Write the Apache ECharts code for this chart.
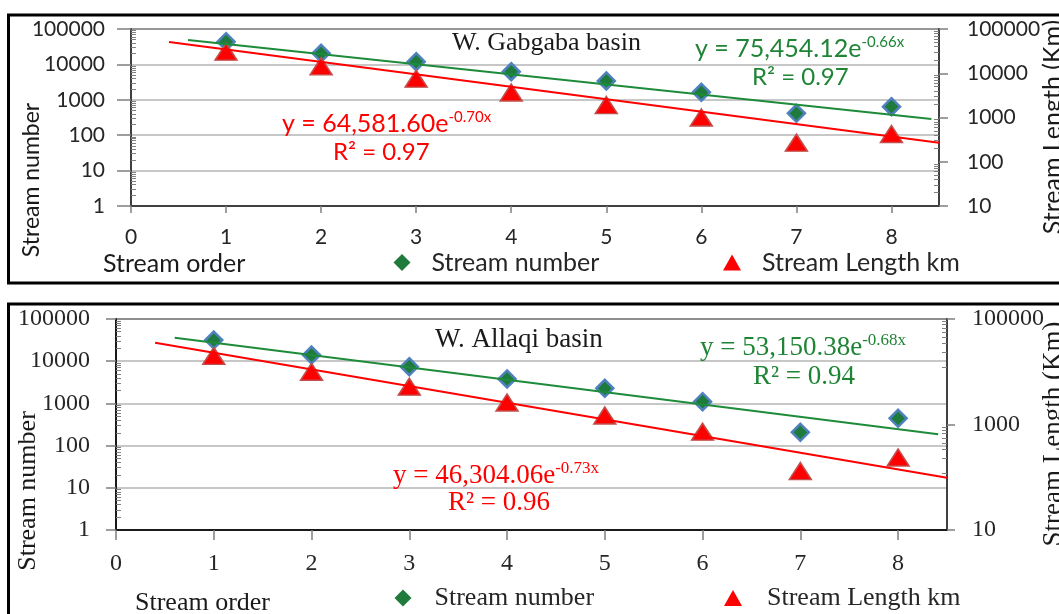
<!DOCTYPE html>
<html><head><meta charset="utf-8">
<script src="https://cdn.jsdelivr.net/npm/echarts@6/dist/echarts.min.js"></script>
<style>html,body{margin:0;padding:0;background:#fff}#c{width:1059px;height:614px}</style>
</head><body><div id="c"></div>
<script>
// ---- data ----
const streamOrder = [1, 2, 3, 4, 5, 6, 7, 8];
const xTickValues = [0, 1, 2, 3, 4, 5, 6, 7, 8];
const gabgabaNumber = [43800, 20600, 11900, 6200, 3400, 1630, 415, 640];
const gabgabaLength = [30700, 14350, 7530, 3670, 1910, 1000, 270, 424];
const allaqiNumber = [31700, 14000, 7400, 3790, 2280, 1100, 207, 444];
const allaqiLength = [20000, 10000, 5210, 2610, 1480, 730, 131, 237];
// trendline end points (x, y)
const gabgabaNumberTrendX = [0.6, 8.42];
const gabgabaNumberTrendY = [48900, 287];
const gabgabaLengthTrendX = [0.4, 8.5];
const gabgabaLengthTrendY = [50800, 269];
const allaqiNumberTrendX = [0.6, 8.41];
const allaqiNumberTrendY = [36060, 185];
const allaqiLengthTrendX = [0.4, 8.5];
const allaqiLengthTrendY = [35500, 98];
// axis tick values
const leftMajorTicks = [1, 10, 100, 1000, 10000, 100000];
const topRightMajorTicks = [10, 100, 1000, 10000, 100000];
const bottomRightMajorTicks = [10, 1000, 100000];
// texts
const panelTitles = ['W. Gabgaba basin', 'W. Allaqi basin'];
const eqGabNumber = ['y = 75,454.12e', '-0.66x', 'R² = 0.97'];
const eqGabLength = ['y = 64,581.60e', '-0.70x', 'R² = 0.97'];
const eqAllNumber = ['y = 53,150.38e', '-0.68x', 'R² = 0.94'];
const eqAllLength = ['y = 46,304.06e', '-0.73x', 'R² = 0.96'];
const seriesNames = ['Stream number', 'Stream Length km'];
const axisNames = ['Stream number', 'Stream Length (Km)', 'Stream order'];

const zip = (xs, ys) => xs.map((x, i) => [x, ys[i]]);
// minor ticks: each major interval divided in 9 equal (linear) steps, like the source chart
const minorBetween = majors => {
  const out = [];
  for (let i = 0; i < majors.length - 1; i++) {
    const a = majors[i], b = majors[i + 1], st = (b - a) / 9;
    for (let k = 1; k < 9; k++) out.push(a + st * k);
  }
  return out;
};
const GREEN_LINE = '#1E8B3A', GREEN_TXT = '#1F8436', RED = '#FF0000';
const SANS = 'Lato', SERIF = 'Liberation Serif';
const logFmt = v => String(Math.round(v));

function xAxisCfg(grid, font, size, margin, tickLen, lineColor) {
  return {
    gridIndex: grid, type: 'value', min: 0, max: 8.5, interval: 1,
    axisLine: { lineStyle: { color: lineColor, width: 2 } },
    axisTick: { length: tickLen, customValues: xTickValues, lineStyle: { color: '#7f7f7f', width: 1.5 } },
    axisLabel: { margin: margin, fontFamily: font, fontSize: size, color: '#262626',
      customValues: xTickValues, formatter: v => String(v) },
    splitLine: { show: false }
  };
}
function yAxisCfg(grid, pos, min, majors, font, size, margin, tickLen, grid_line, lineColor) {
  return {
    gridIndex: grid, type: 'log', logBase: 10, min: min, max: 100000, position: pos,
    axisLine: { show: true, lineStyle: { color: lineColor, width: 2 } },
    axisTick: { show: true, length: tickLen, customValues: majors, lineStyle: { color: '#7f7f7f', width: 1.5 } },
    axisLabel: { margin: margin, fontFamily: font, fontSize: size, color: '#262626', customValues: majors, formatter: logFmt },
    splitLine: { show: grid_line, lineStyle: { color: '#b4b4b4', width: 1.5 } }
  };
}
function minorAxisCfg(grid, pos, min, majors) {
  return {
    gridIndex: grid, type: 'log', logBase: 10, min: min, max: 100000, position: pos,
    axisLine: { show: false }, axisLabel: { show: false },
    axisTick: { show: true, inside: true, length: 5, customValues: minorBetween(majors),
      lineStyle: { color: '#808080', width: 1 } },
    splitLine: { show: false }
  };
}

function scatterNum(name, xi, yi, data) {
  return { name: name, type: 'scatter', xAxisIndex: xi, yAxisIndex: yi, data: data, z: 2,
    symbol: 'diamond', symbolSize: 17,
    itemStyle: { color: '#1E7B3C', borderColor: '#4F81BD', borderWidth: 2.5, opacity: 1 } };
}
function scatterLen(name, xi, yi, data) {
  return { name: name, type: 'scatter', xAxisIndex: xi, yAxisIndex: yi, data: data, z: 2,
    symbol: 'triangle', symbolSize: [22, 17],
    itemStyle: { color: RED, borderColor: '#C0504D', borderWidth: 1.5, opacity: 1 } };
}
function trend(name, xi, yi, data, color) {
  return { name: name, type: 'line', xAxisIndex: xi, yAxisIndex: yi, data: data, z: 4,
    showSymbol: false, symbol: 'none', silent: true, animation: false,
    lineStyle: { color: color, width: 2 } };
}
function legendCfg(name, icon, left, top, w, h, pad, font, size) {
  return { data: [{ name: name, icon: icon }], left: left, top: top, padding: 0,
    itemWidth: w, itemHeight: h, selectedMode: false,
    itemStyle: { borderWidth: 0 },
    textStyle: { fontFamily: font, fontSize: size, color: '#262626', padding: [0, 0, 0, pad] } };
}
function eqText(x, y, parts, color, font, size, supSize, rx, ry, rSize) {
  return [
    { type: 'text', x: x, y: y, z: 10, style: {
      text: '{m|' + parts[0] + '}{s|' + parts[1] + '}',
      verticalAlign: 'middle', textVerticalAlign: 'middle', align: 'left', textAlign: 'left',
      rich: {
        m: { fontFamily: font, fontSize: size, fill: color, color: color, lineHeight: size + 2, verticalAlign: 'bottom' },
        s: { fontFamily: font, fontSize: supSize, fill: color, color: color, lineHeight: size + 2, verticalAlign: 'top' }
      } } },
    { type: 'text', x: rx, y: ry, z: 10, style: {
      text: parts[2], fontFamily: font, fontSize: rSize, font: rSize + 'px "' + font + '"',
      fill: color, verticalAlign: 'middle', textVerticalAlign: 'middle', align: 'left', textAlign: 'left' } }
  ];
}
function plainText(x, y, text, font, size, rot, align) {
  return { type: 'text', x: x, y: y, rotation: rot || 0, z: 10, style: {
    text: text, fontFamily: font, fontSize: size, font: size + 'px "' + font + '"', fill: '#1a1a1a',
    align: align || 'left', textAlign: align || 'left', verticalAlign: 'middle', textVerticalAlign: 'middle' } };
}

const chart = echarts.init(document.getElementById('c'), null, { renderer: 'canvas' });
const option = {
  animation: false,
  backgroundColor: '#fff',
  grid: [
    { left: 131, top: 29, width: 808, height: 177, show: true, borderColor: '#404040', borderWidth: 2, backgroundColor: 'transparent' },
    { left: 116, top: 319, width: 831, height: 211, show: true, borderColor: '#1a1a1a', borderWidth: 2, backgroundColor: 'transparent' }
  ],
  xAxis: [
    xAxisCfg(0, SANS, 21, 21, 7, '#404040'),
    xAxisCfg(1, SERIF, 24, 22, 10, '#1a1a1a')
  ],
  yAxis: [
    yAxisCfg(0, 'left', 1, leftMajorTicks, SANS, 21, 26, 14, true, '#404040'),
    yAxisCfg(0, 'right', 10, topRightMajorTicks, SANS, 21, 28, 9, false, '#404040'),
    yAxisCfg(1, 'left', 1, leftMajorTicks, SERIF, 24, 26, 10, true, '#1a1a1a'),
    yAxisCfg(1, 'right', 10, bottomRightMajorTicks, SERIF, 24, 25, 8, false, '#404040'),
    minorAxisCfg(0, 'left', 1, leftMajorTicks),
    minorAxisCfg(0, 'right', 10, topRightMajorTicks),
    minorAxisCfg(1, 'left', 1, leftMajorTicks),
    minorAxisCfg(1, 'right', 10, bottomRightMajorTicks)
  ],
  legend: [
    legendCfg(seriesNames[0], 'diamond', 393.5, 250, 17, 17, 16, SANS, 25),
    legendCfg(seriesNames[1], 'triangle', 723, 250, 18, 16, 16, SANS, 25),
    legendCfg(seriesNames[0], 'diamond', 394.5, 585, 17, 17, 18, SERIF, 26),
    legendCfg(seriesNames[1], 'triangle', 724, 585, 18, 16, 20, SERIF, 26)
  ],
  series: [
    scatterNum(seriesNames[0], 0, 0, zip(streamOrder, gabgabaNumber)),
    scatterLen(seriesNames[1], 0, 1, zip(streamOrder, gabgabaLength)),
    trend('trendGabNum', 0, 0, zip(gabgabaNumberTrendX, gabgabaNumberTrendY), GREEN_LINE),
    trend('trendGabLen', 0, 1, zip(gabgabaLengthTrendX, gabgabaLengthTrendY), RED),
    scatterNum(seriesNames[0], 1, 2, zip(streamOrder, allaqiNumber)),
    scatterLen(seriesNames[1], 1, 3, zip(streamOrder, allaqiLength)),
    trend('trendAllNum', 1, 2, zip(allaqiNumberTrendX, allaqiNumberTrendY), GREEN_LINE),
    trend('trendAllLen', 1, 3, zip(allaqiLengthTrendX, allaqiLengthTrendY), RED)
  ],
  graphic: [].concat(
    [
      { type: 'rect', shape: { x: 8.5, y: 15, width: 1080, height: 268 }, z: 0,
        style: { fill: 'none', stroke: '#000', lineWidth: 3 } },
      { type: 'rect', shape: { x: 8.5, y: 304, width: 1080, height: 330 }, z: 0,
        style: { fill: 'none', stroke: '#000', lineWidth: 3 } },
      plainText(452, 43, panelTitles[0], SERIF, 26),
      plainText(435, 340, panelTitles[1], SERIF, 27),
      plainText(32, 180, axisNames[0], SANS, 23, Math.PI / 2, 'center'),
      plainText(1053, 127, axisNames[1], SANS, 25, Math.PI / 2, 'center'),
      plainText(103, 264, axisNames[2], SANS, 25),
      plainText(28, 491, axisNames[0], SERIF, 26, Math.PI / 2, 'center'),
      plainText(1054, 434, axisNames[1], SERIF, 27, Math.PI / 2, 'center'),
      plainText(135, 603, axisNames[2], SERIF, 26)
    ],
    eqText(282, 123, eqGabLength, RED, SANS, 25, 15, 333, 152, 24),
    eqText(695, 48, eqGabNumber, GREEN_TXT, SANS, 25, 15, 752, 77, 24),
    eqText(700, 347, eqAllNumber, GREEN_TXT, SERIF, 27, 17, 753, 377, 27),
    eqText(393, 475, eqAllLength, RED, SERIF, 27, 17, 448, 503, 27)
  )
};
chart.setOption(option);
</script>
</body></html>
